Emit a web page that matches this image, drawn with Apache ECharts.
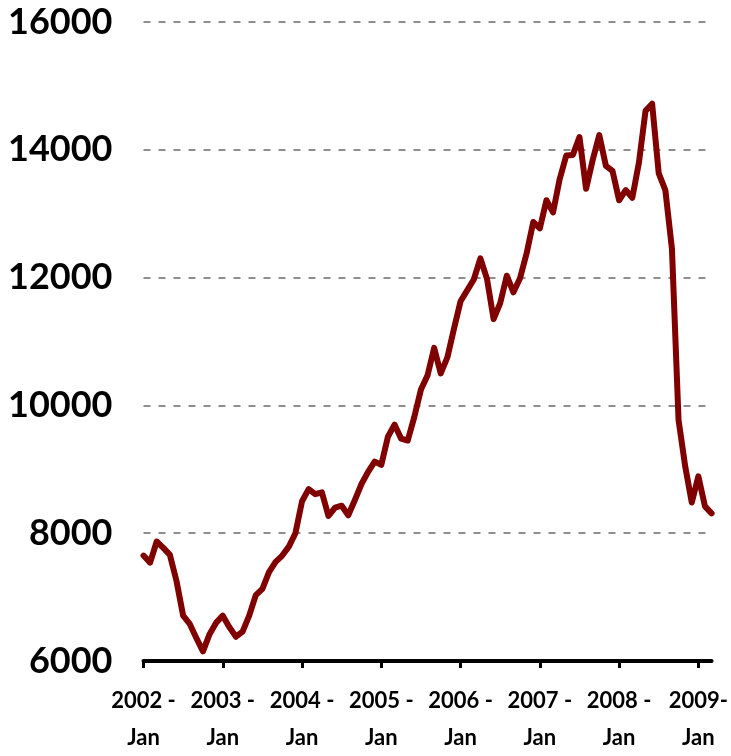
<!DOCTYPE html>
<html>
<head>
<meta charset="utf-8">
<script src="https://cdn.jsdelivr.net/npm/echarts@6/dist/echarts.min.js"></script>
<style>
html,body{margin:0;padding:0;background:#fff;}
#chart{width:731px;height:756px;}
</style>
</head>
<body>
<div id="chart"></div>
<script>
const years = ["2002","2003","2004","2005","2006","2007","2008","2009"];
const months = ["Jan","Feb","Mar","Apr","May","Jun","Jul","Aug","Sep","Oct","Nov","Dec"];
const lastYearMonths = 3;
const categories = [];
years.forEach(function(y, yi){
  const n = (yi === years.length - 1) ? lastYearMonths : 12;
  for (let m = 0; m < n; m++) categories.push(y + "-" + months[m]);
});
const values = [
  7650,7540,7870,7770,7660,7250,6710,6580,6360,6150,6420,6600,
  6710,6530,6380,6460,6710,7030,7130,7390,7550,7650,7790,8000,
  8500,8690,8610,8640,8270,8400,8430,8280,8520,8770,8960,9120,
  9070,9510,9700,9480,9450,9820,10250,10470,10900,10500,10750,11200,
  11630,11800,11970,12300,11980,11350,11600,12030,11770,11990,12380,12870,
  12770,13210,13020,13540,13910,13920,14200,13390,13840,14230,13750,13670,
  13210,13370,13250,13800,14610,14720,13630,13370,12450,9770,9050,8480,
  8890,8420,8310
];
const yTicks = {min: 6000, max: 16000, interval: 2000};

const chart = echarts.init(document.getElementById('chart'));
chart.setOption({
  animation: false,
  grid: {left: 143.5, right: 17, top: 22, bottom: 91, containLabel: false},
  xAxis: {
    type: 'category',
    data: categories,
    boundaryGap: false,
    axisLine: {show: true, lineStyle: {color: '#000', width: 4, cap: 'round'}},
    axisTick: {show: true, interval: 11, length: 7, lineStyle: {color: '#000', width: 3}},
    axisLabel: {
      interval: 11,
      margin: 21,
      fontFamily: 'Lato',
      fontWeight: 'bold',
      fontSize: 22,
      color: '#000',
      lineHeight: 37,
      formatter: function(v){
        const p = v.split('-');
        return (p[0] === '2009' ? p[0] + '-' : p[0] + ' -') + '\n' + p[1];
      }
    },
    splitLine: {show: false}
  },
  yAxis: {
    type: 'value',
    min: yTicks.min, max: yTicks.max, interval: yTicks.interval,
    axisLine: {show: false},
    axisTick: {show: false},
    axisLabel: {
      margin: 31, fontFamily: 'Lato', fontWeight: 'bold', fontSize: 36, color: '#000',
      formatter: function(v){ return String(v); }
    },
    splitLine: {show: true, lineStyle: {color: '#6a6a6a', width: 1.5, type: [7, 8]}}
  },
  series: [{
    type: 'line',
    data: values,
    showSymbol: false,
    symbol: 'none',
    lineStyle: {color: '#800000', width: 6, cap: 'round', join: 'round'},
    itemStyle: {color: '#800000'}
  }]
});
</script>
</body>
</html>
